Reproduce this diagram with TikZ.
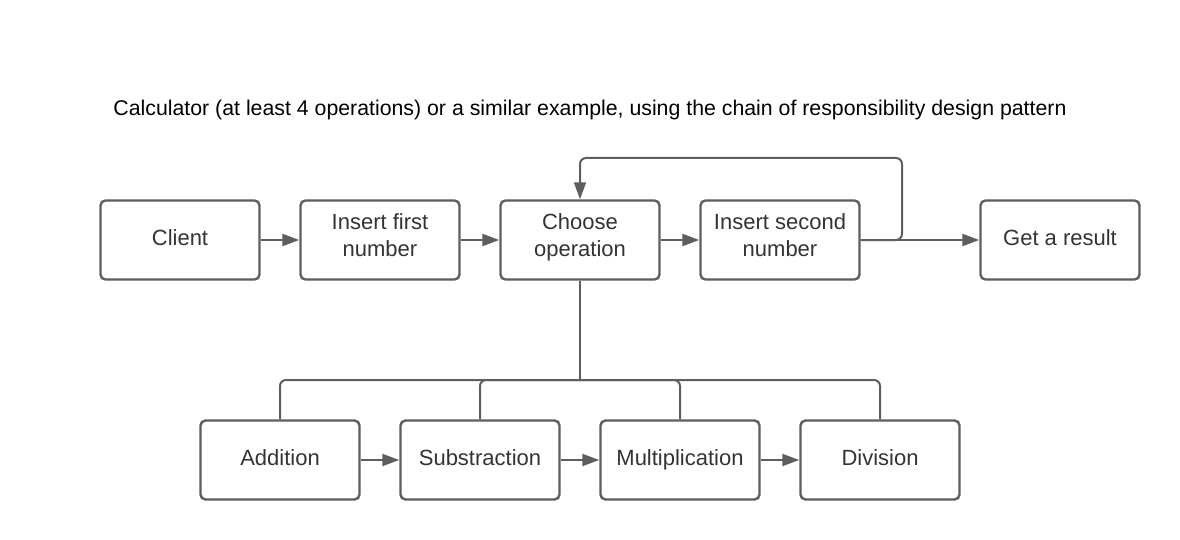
\documentclass[tikz,border=0pt]{standalone}
\usepackage{fontspec}
\setmainfont{Liberation Sans}
\usepackage{xcolor}
\usetikzlibrary{arrows.meta}

\definecolor{linegray}{HTML}{5E5E5E}
\definecolor{textgray}{HTML}{333333}

\tikzset{
  stepbox/.style={draw=linegray, line width=2.4pt, rounded corners=5pt,
    minimum width=159pt, minimum height=79pt, align=center,
    text=textgray, font=\fontsize{22}{27}\selectfont},
  oneline/.style={text height=16pt, text depth=5.5pt},
  twoline/.style={text depth=9pt},
  link/.style={draw=linegray, line width=2pt,
    -{Triangle[length=17pt,width=12pt]}},
  tree/.style={draw=linegray, line width=2pt, rounded corners=6pt}
}

\begin{document}
\begin{tikzpicture}[x=1pt,y=-1pt]
    \useasboundingbox (0,0) rectangle (1180,540);
    \node (title) at (590,110) {\fontsize{21.3}{25}\selectfont Calculator (at least 4 operations) or a similar example, using the chain of responsibility design pattern};

    \node[stepbox,oneline] (client) at (180,240) {Client};
    \node[stepbox,twoline] (first) at (380,240) {Insert first\\number};
    \node[stepbox,twoline] (choose) at (580,240) {Choose\\operation};
    \node[stepbox,twoline] (second) at (780,240) {Insert second\\number};
    \node[stepbox,oneline] (result) at (1060,240) {Get a result};

    \node[stepbox,oneline] (add) at (280,460) {Addition};
    \node[stepbox,oneline] (sub) at (480,460) {Substraction};
    \node[stepbox,oneline] (mul) at (680,460) {Multiplication};
    \node[stepbox,oneline] (div) at (880,460) {Division};

    \coordinate (hub) at (580,380);

    \draw[link] (client) -- (first);
    \draw[link] (first) -- (choose);
    \draw[link] (choose) -- (second);
    \draw[link] (second) -- (result);
    \draw[link, rounded corners=6pt] (second.east) -| (902,158) -| (choose.north);

    \draw[link] (add) -- (sub);
    \draw[link] (sub) -- (mul);
    \draw[link] (mul) -- (div);

    \draw[tree] (choose.south) -- (hub);
    \draw[tree] (hub) -| (add.north);
    \draw[tree] (hub) -| (sub.north);
    \draw[tree] (hub) -| (mul.north);
    \draw[tree] (hub) -| (div.north);
  \end{tikzpicture}
\end{document}
